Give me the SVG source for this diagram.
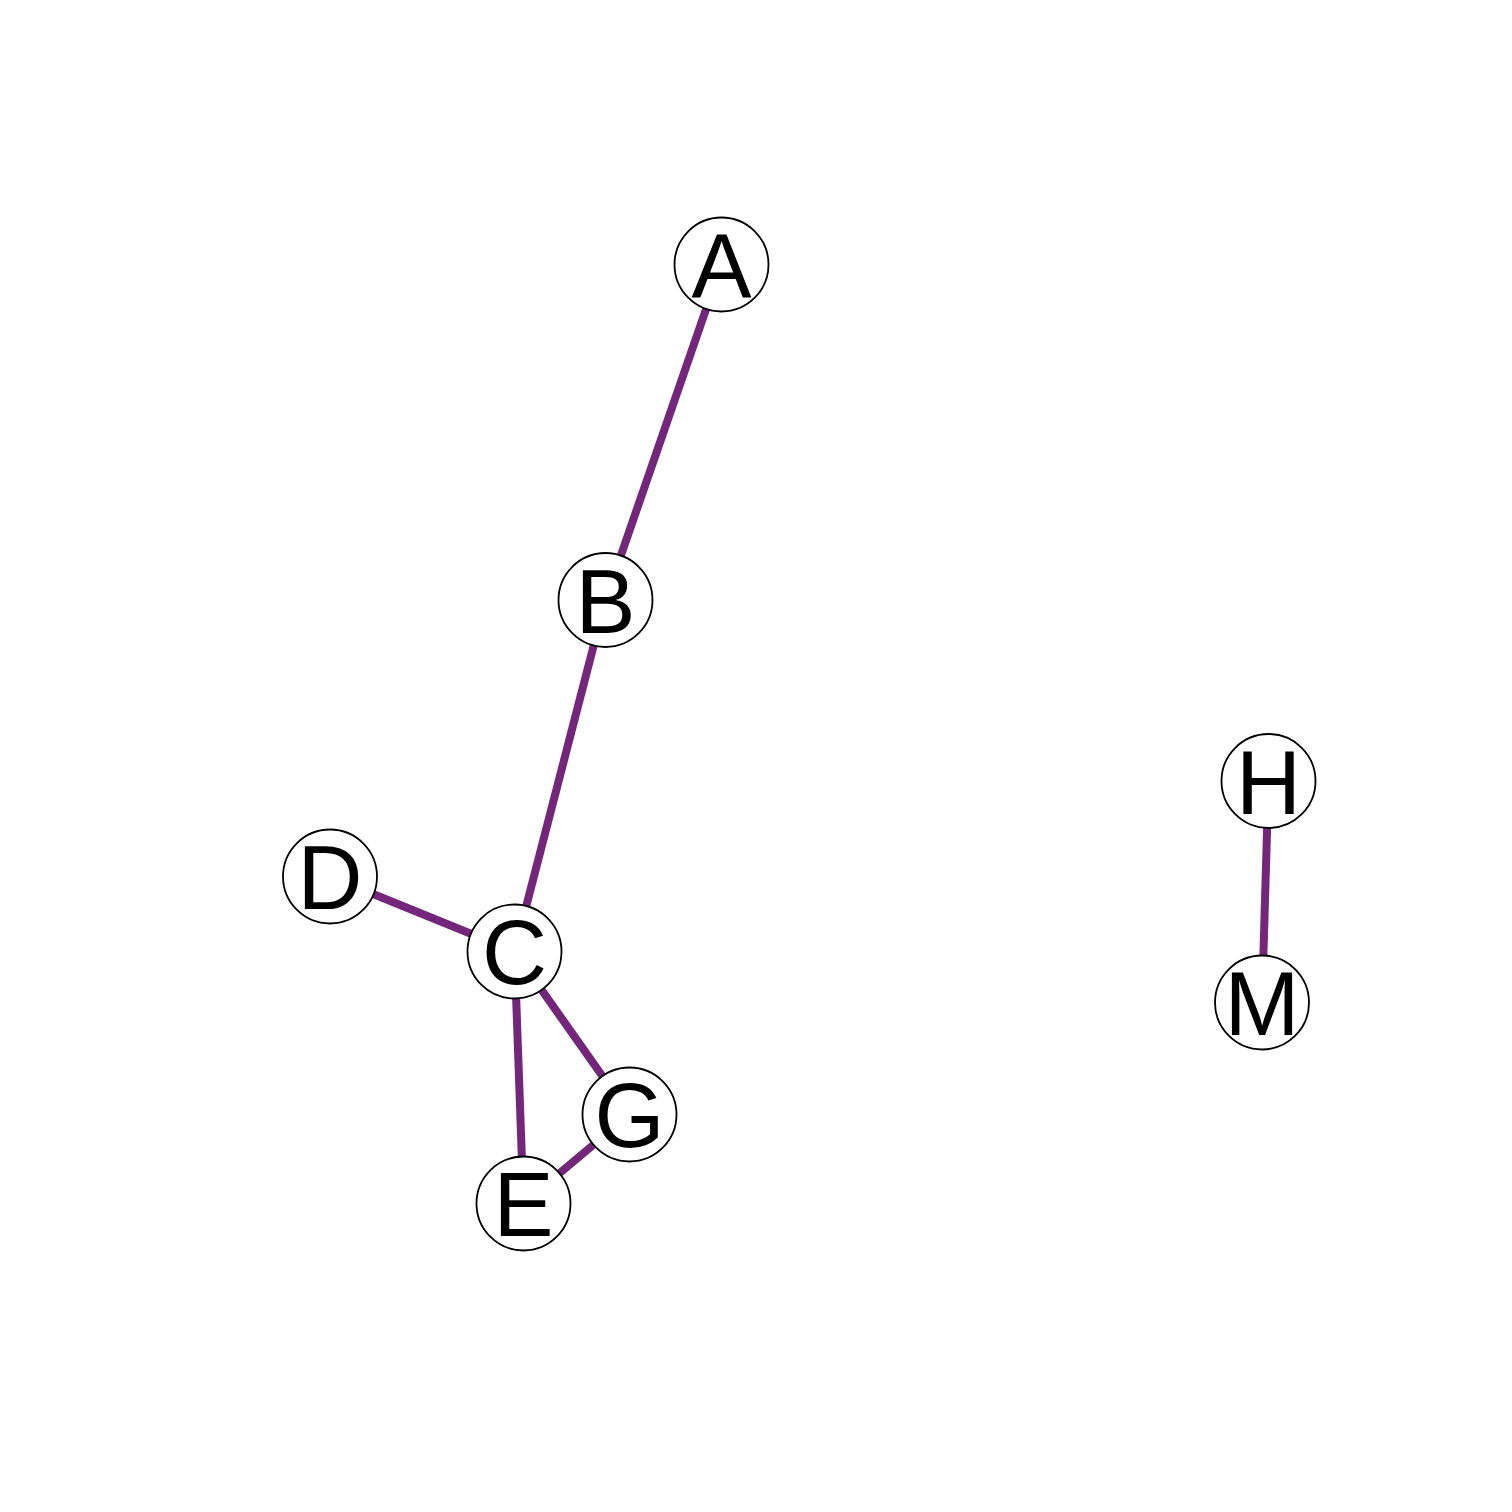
<svg xmlns="http://www.w3.org/2000/svg" width="1512" height="1512" viewBox="0 0 1512 1512">
<style>
.e{stroke:#73267a;stroke-width:8;fill:none}
.n circle{fill:#fff;stroke:#000;stroke-width:1.8}
.n text{font-family:"Liberation Sans",Arial,sans-serif;font-size:90px;text-anchor:middle;fill:#000}
</style>
<rect width="1512" height="1512" fill="#fff"/>
<g id="edges">
<line class="e" x1="721.5" y1="264.5" x2="605.5" y2="600"/>
<line class="e" x1="605.5" y1="600" x2="514.5" y2="951.5"/>
<line class="e" x1="330" y1="876.5" x2="514.5" y2="951.5"/>
<line class="e" x1="514.5" y1="951.5" x2="523.5" y2="1203.5"/>
<line class="e" x1="514.5" y1="951.5" x2="629.5" y2="1114.5"/>
<line class="e" x1="523.5" y1="1203.5" x2="629.5" y2="1114.5"/>
<line class="e" x1="1268.5" y1="781" x2="1262" y2="1002.5"/>
</g>
<g id="A" class="n"><circle cx="721.5" cy="264.5" r="47"/><text x="721.5" y="297">A</text></g>
<g id="B" class="n"><circle cx="605.5" cy="600" r="47"/><text x="605.5" y="632.5">B</text></g>
<g id="C" class="n"><circle cx="514.5" cy="951.5" r="47"/><text x="514.5" y="984">C</text></g>
<g id="D" class="n"><circle cx="330" cy="876.5" r="47"/><text x="330" y="909">D</text></g>
<g id="E" class="n"><circle cx="523.5" cy="1203.5" r="47"/><text x="523.5" y="1236">E</text></g>
<g id="G" class="n"><circle cx="629.5" cy="1114.5" r="47"/><text x="629.5" y="1147">G</text></g>
<g id="H" class="n"><circle cx="1268.5" cy="781" r="47"/><text x="1268.5" y="813.5">H</text></g>
<g id="M" class="n"><circle cx="1262" cy="1002.5" r="47"/><text x="1262" y="1035">M</text></g>
</svg>
